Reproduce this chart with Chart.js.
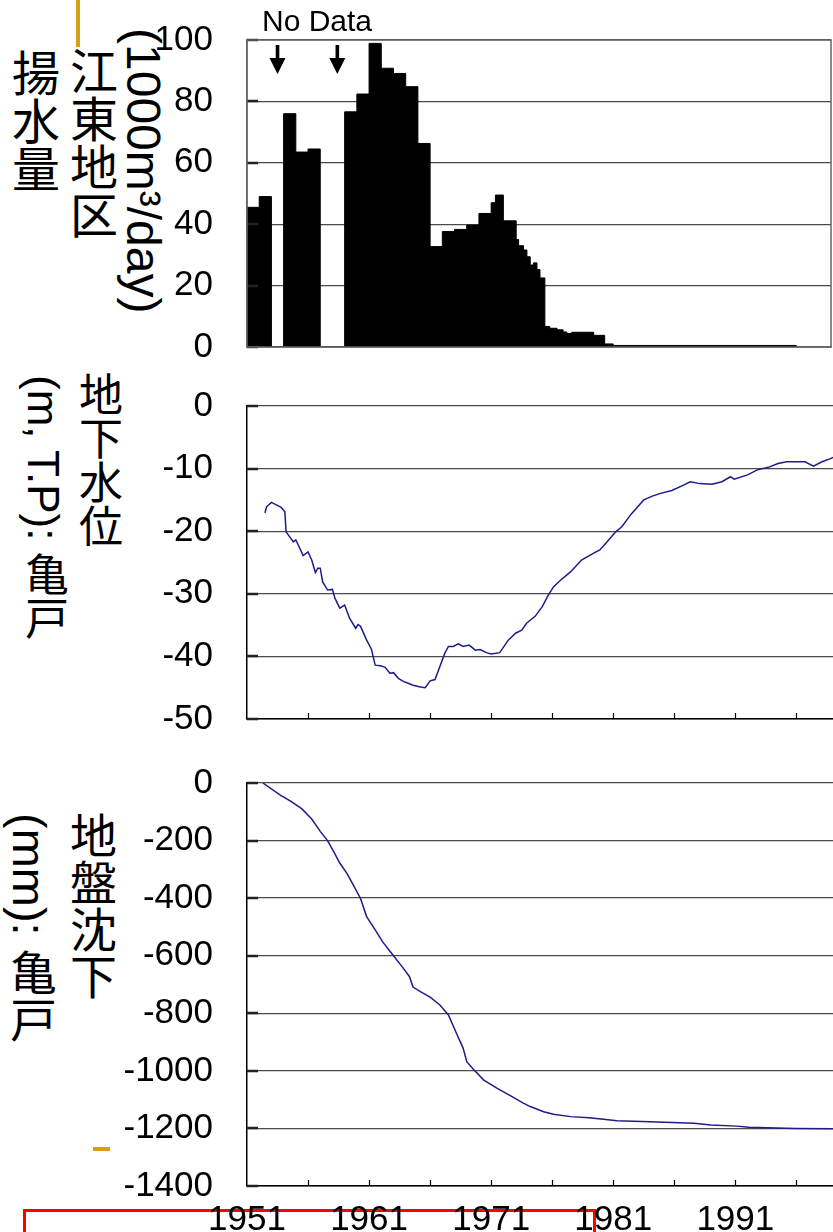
<!DOCTYPE html>
<html><head><meta charset="utf-8">
<script src="https://cdn.jsdelivr.net/npm/chart.js@4.4.0/dist/chart.umd.min.js"></script>
<style>
html,body{margin:0;padding:0;background:#fff;overflow:hidden;width:833px;height:1232px;}
#page{position:relative;width:833px;height:1232px;overflow:hidden;background:#fff;}
canvas{position:absolute;left:0;}
.vt{position:absolute;writing-mode:vertical-rl;font-family:'Liberation Sans','Noto Sans CJK JP',sans-serif;line-height:1;color:#000;white-space:nowrap;}
</style></head><body><div id="page">
<div style="position:absolute;left:76px;top:0;width:4px;height:47px;background:#D4A017"></div>
<div style="position:absolute;left:93px;top:1147px;width:17px;height:4px;background:#D4A017"></div>
<div style="position:absolute;left:23px;top:1209px;width:567px;height:60px;border:3px solid #ff0000;"></div>

<div class="vt" style="left:7px;top:49px;font-size:48px;">揚水量</div>
<div class="vt" style="left:65px;top:47px;font-size:48px;">江東地区</div>
<div class="vt" style="left:119px;top:28px;font-size:48px;">(1000m³/day)</div>

<div class="vt" style="left:21px;top:375px;font-size:44px;">(m, T.P): 亀戸</div>
<div class="vt" style="left:75px;top:372px;font-size:44px;">地下水位</div>

<div class="vt" style="left:6px;top:813px;font-size:47px;">(mm): 亀戸</div>
<div class="vt" style="left:66px;top:812px;font-size:47px;">地盤沈下</div>

<canvas id="c1" width="833" height="365" style="top:0"></canvas>
<canvas id="c2" width="833" height="375" style="top:365px"></canvas>
<canvas id="c3" width="833" height="492" style="top:740px"></canvas>
</div>
<script>
// ---------- data ----------
const xTickYears = [1951, 1956, 1961, 1966, 1971, 1976, 1981, 1986, 1991, 1996];
const xLabelYears = [1951, 1961, 1971, 1981, 1991];
const noDataYears = [1953.5, 1958.4];

// 江東地区 揚水量 (1000m3/day): period start year and value held until next start
const pumpYear = [1951, 1952, 1953, 1954, 1955, 1956, 1957, 1959, 1960, 1961, 1962, 1963, 1964, 1965,
  1966, 1967, 1968, 1969, 1970, 1971, 1971.35, 1972, 1973.05, 1973.25, 1973.65, 1973.93, 1974.2, 1974.47,
  1974.75, 1975.0, 1975.4, 1975.8, 1976.4, 1976.9, 1977.2, 1977.6, 1979.4, 1980.3, 1981.0, 1996.0];
const pumpValue = [45.5, 49, 0, 76, 63.5, 64.5, 0, 76.6, 82.4, 98.9, 90.8, 89.1, 84.8, 66.3,
  32.7, 37.6, 38.3, 39.7, 43.5, 47, 49.5, 41.1, 35, 33, 31.6, 29.4, 26.7, 27.4,
  25.2, 22.5, 6.7, 6.1, 5.6, 4.9, 4.4, 4.8, 3.8, 1.0, 0.5, 0];

// 地下水位 (m, T.P.) 亀戸
const levelYear = [1952.47, 1952.6, 1953.0, 1953.4, 1953.8, 1954.1, 1954.2, 1954.5, 1954.8, 1955.0, 1955.2, 1955.6,
  1956.0, 1956.3, 1956.6, 1956.8, 1957.0, 1957.2, 1957.6, 1958.0, 1958.2, 1958.6, 1959.0, 1959.4, 1959.9,
  1960.1, 1960.3, 1960.8, 1961.2, 1961.5, 1961.9, 1962.3, 1962.7, 1963.0, 1963.4, 1963.8, 1964.2, 1964.6,
  1965.2, 1965.6, 1966.0, 1966.4, 1966.8, 1967.2, 1967.5, 1967.9, 1968.3, 1968.7, 1969.2, 1969.7, 1970.1,
  1970.6, 1971.0, 1971.7, 1972.4, 1973.0, 1973.5, 1973.9, 1974.6, 1975.2, 1975.6, 1976.1, 1976.7, 1977.5,
  1978.4, 1979.4, 1979.9, 1980.5, 1981.2, 1981.7, 1982.5, 1983.5, 1984.2, 1984.8, 1985.8, 1986.8, 1987.3,
  1988.1, 1989.1, 1989.9, 1990.6, 1990.9, 1992.0, 1992.8, 1993.7, 1994.5, 1995.2, 1996.0, 1996.7, 1997.4,
  1998.1, 1998.8, 1999.0];
const levelValue = [-17.1, -16.1, -15.4, -15.8, -16.2, -16.9, -20.1, -20.9, -21.7, -21.4, -22.2, -23.9,
  -23.3, -24.6, -26.6, -25.9, -25.9, -28.1, -29.4, -29.3, -30.7, -32.3, -31.8, -33.9, -35.5,
  -34.9, -35.2, -37.4, -38.9, -41.4, -41.5, -41.7, -42.7, -42.6, -43.5, -44.0, -44.3, -44.6,
  -44.9, -45.0, -43.9, -43.7, -41.6, -39.5, -38.4, -38.4, -38.0, -38.4, -38.2, -39.0, -38.9,
  -39.4, -39.6, -39.4, -37.4, -36.3, -35.8, -34.7, -33.6, -32.0, -30.5, -28.9, -27.8, -26.5,
  -24.6, -23.5, -23.0, -21.7, -20.1, -19.3, -17.2, -15.0, -14.4, -14.0, -13.5, -12.6, -12.1,
  -12.4, -12.5, -12.1, -11.3, -11.7, -11.0, -10.2, -9.8, -9.2, -8.9, -8.9, -8.9, -9.6,
  -8.9, -8.4, -8.2];

// 地盤沈下 (mm) 亀戸
const subsYear = [1952.3, 1953.7, 1954.6, 1955.5, 1956.3, 1957.0, 1957.6, 1958.1, 1958.6, 1959.2, 1959.7,
  1960.3, 1960.8, 1961.5, 1962.1, 1963.0, 1963.7, 1964.3, 1964.6, 1965.2, 1966.0, 1966.8, 1967.5, 1968.1,
  1968.7, 1969.0, 1969.6, 1970.4, 1971.5, 1972.6, 1973.6, 1974.2, 1975.3, 1976.1, 1977.5, 1979.0, 1980.2,
  1981.3, 1984.0, 1987.6, 1989.0, 1991.1, 1992.1, 1995.9, 1999.0];
const subsValue = [0, -41, -64, -90, -125, -168, -200, -238, -278, -315, -354,
  -401, -464, -510, -551, -600, -638, -672, -709, -725, -744, -771, -806, -864,
  -921, -968, -997, -1032, -1061, -1087, -1111, -1124, -1142, -1151, -1159, -1163, -1168,
  -1173, -1177, -1182, -1188, -1192, -1196, -1200, -1201];

// ---------- helpers ----------
const TICKFONT = "'Liberation Sans',Arial,sans-serif";
const pts = (xs, ys) => xs.map((x, i) => ({x, y: ys[i]}));

function innerTicks(drawX) {
  return {
    id: 'innerTicks',
    afterDraw(chart) {
      const {ctx, chartArea: a, scales: {x, y}} = chart;
      ctx.save();
      ctx.strokeStyle = '#222'; ctx.lineWidth = 2.5;
      y.ticks.forEach(t => {
        const py = Math.round(y.getPixelForValue(t.value));
        ctx.beginPath(); ctx.moveTo(a.left, py); ctx.lineTo(a.left + 11, py); ctx.stroke();
      });
      if (drawX) {
        ctx.strokeStyle = '#000'; ctx.lineWidth = 1.2;
        x.ticks.forEach(t => {
          if (t.value <= x.min) return;
          const px = Math.round(x.getPixelForValue(t.value)) + 0.5;
          ctx.beginPath(); ctx.moveTo(px, a.bottom); ctx.lineTo(px, a.bottom - 6); ctx.stroke();
        });
      }
      ctx.restore();
    }
  };
}

function makeOptions(o) {
  return {
    responsive: false, animation: false, events: [],
    layout: {padding: {top: o.padTop, right: o.padRight, left: 0, bottom: 0}},
    plugins: {legend: {display: false}, tooltip: {enabled: false}},
    scales: {
      x: {
        type: 'linear', min: 1951, max: o.xmax,
        afterBuildTicks: s => { s.ticks = xTickYears.map(v => ({value: v})); },
        afterFit: s => { s.height = o.xHeight; s.paddingLeft = 0; s.paddingRight = 0; s.paddingTop = 0; s.paddingBottom = 0; },
        grid: {display: false, drawTicks: false},
        border: {display: true, color: o.axisColor, width: 1.5},
        ticks: {
          display: o.showX, autoSkip: false, maxRotation: 0, padding: 13, color: '#000',
          font: {family: TICKFONT, size: 35},
          callback: v => xLabelYears.includes(v) ? String(v) : ''
        }
      },
      y: {
        min: o.ymin, max: o.ymax,
        afterFit: s => { s.width = 247; s.paddingTop = 0; s.paddingBottom = 0; },
        grid: {color: '#4a4a4a', lineWidth: 1.3, drawTicks: false},
        border: {display: true, color: o.axisColor, width: 1.5},
        ticks: {stepSize: o.step, padding: 34, color: '#000', font: {family: TICKFONT, size: 35},
          callback: v => String(v)}
      }
    }
  };
}

// ---------- top: pumping ----------
new Chart(document.getElementById('c1'), {
  type: 'line',
  data: {datasets: [{data: pts(pumpYear, pumpValue), stepped: true, fill: 'origin',
    backgroundColor: '#000', borderColor: '#000', borderWidth: 1, pointRadius: 0}]},
  options: makeOptions({xmax: 1998.84, ymin: 0, ymax: 100, step: 20, padTop: 40, padRight: 2,
    xHeight: 18, showX: false, axisColor: '#666'}),
  plugins: [innerTicks(false), {
    id: 'frameNoData',
    afterDraw(chart) {
      const {ctx, chartArea: a, scales: {x}} = chart;
      ctx.save();
      ctx.strokeStyle = '#666'; ctx.lineWidth = 1.5;
      ctx.strokeRect(a.left, a.top, a.right - a.left, a.bottom - a.top);
      ctx.fillStyle = '#000';
      ctx.font = "30px 'Liberation Sans', Arial, sans-serif";
      ctx.textBaseline = 'alphabetic'; ctx.textAlign = 'left';
      ctx.fillText('No Data', 262, 31);
      noDataYears.forEach(yr => {
        const px = x.getPixelForValue(yr);
        ctx.fillRect(px - 1.8, a.top + 5, 3.6, 14);
        ctx.beginPath(); ctx.moveTo(px - 8, a.top + 18); ctx.lineTo(px + 8, a.top + 18);
        ctx.lineTo(px, a.top + 34); ctx.closePath(); ctx.fill();
      });
      ctx.restore();
    }
  }]
});

// ---------- middle: groundwater level ----------
new Chart(document.getElementById('c2'), {
  type: 'line',
  data: {datasets: [{data: pts(levelYear, levelValue), borderColor: '#1c1c8c', borderWidth: 1.5,
    pointRadius: 0, fill: false, tension: 0}]},
  options: makeOptions({xmax: 1999, ymin: -50, ymax: 0, step: 10, padTop: 41, padRight: 0,
    xHeight: 21, showX: false, axisColor: '#000'}),
  plugins: [innerTicks(true)]
});

// ---------- bottom: subsidence ----------
new Chart(document.getElementById('c3'), {
  type: 'line',
  data: {datasets: [{data: pts(subsYear, subsValue), borderColor: '#1c1c8c', borderWidth: 1.5,
    pointRadius: 0, fill: false, tension: 0}]},
  options: makeOptions({xmax: 1999, ymin: -1400, ymax: 0, step: 200, padTop: 43, padRight: 0,
    xHeight: 46, showX: true, axisColor: '#000'}),
  plugins: [innerTicks(true)]
});
</script>
</body></html>
